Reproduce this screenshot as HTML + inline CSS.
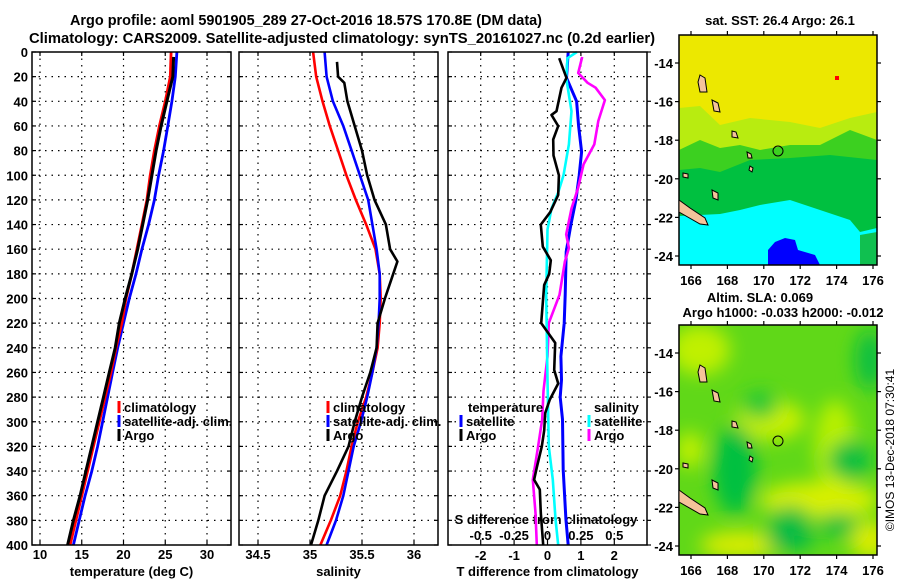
<!DOCTYPE html>
<html><head><meta charset="utf-8"><style>
body{margin:0;background:#fff;}
svg{display:block;font-family:"Liberation Sans",Arial,sans-serif;font-weight:bold;}
</style></head><body>
<svg id="chart" width="900" height="580" viewBox="0 0 900 580" xmlns="http://www.w3.org/2000/svg">
<rect width="900" height="580" fill="#fff"/>
<text x="306" y="25" font-size="14.5" text-anchor="middle" textLength="472" lengthAdjust="spacingAndGlyphs">Argo profile: aoml 5901905_289 27-Oct-2016 18.57S 170.8E (DM data)</text>
<text x="342" y="43" font-size="14.5" text-anchor="middle" textLength="626" lengthAdjust="spacingAndGlyphs">Climatology: CARS2009. Satellite-adjusted climatology: synTS_20161027.nc (0.2d earlier)</text>
<g id="panels"></g>

<defs>
<clipPath id="clipTop"><rect x="679" y="35" width="198" height="230"/></clipPath>
<clipPath id="clipBot"><rect x="679" y="325" width="198" height="230"/></clipPath>
<filter id="blur" x="-20%" y="-20%" width="140%" height="140%"><feGaussianBlur stdDeviation="9"/></filter>
</defs>

<!-- top map -->
<g>
<text x="780" y="25" font-size="13" text-anchor="middle">sat. SST: 26.4 Argo: 26.1</text>
<g clip-path="url(#clipTop)">
<rect x="679" y="35" width="198" height="230" fill="#ece800"/>
<polygon points="679,145 679,108 700,106 720,125 750,118 790,122 820,128 850,118 877,112 877,160 679,160" fill="#b8ec10"/>
<polygon points="679,160 679,150 700,140 720,148 740,145 760,150 790,145 820,145 850,130 877,140 877,260 679,260" fill="#3cd020"/>
<polygon points="679,195 679,170 700,168 720,172 750,160 790,158 830,155 877,160 877,260 679,260" fill="#00c040"/>
<polygon points="679,265 679,216 720,214 740,210 760,205 790,200 820,210 850,220 860,232 877,228 877,198 877,265" fill="#00ffff"/>
<polygon points="860,235 877,232 877,265 860,265" fill="#10c050"/>
<polygon points="768,265 768,250 775,242 785,238 795,240 798,250 815,255 820,265" fill="#0000ff"/>
<rect x="835" y="76" width="4" height="4" fill="#ff0000"/>
</g>
<rect x="679" y="35" width="198" height="230" fill="none" stroke="#000" stroke-width="1.5"/>
<g fill="#f5c39a" stroke="#000" stroke-width="1">
<polygon points="679,200 690,208 705,218 708,225 700,224 679,212"/>
<polygon points="700,75 705,78 707,92 700,92 698,82"/>
<polygon points="712,100 718,103 720,112 714,111"/>
<polygon points="732,131 736,132 738,138 732,137"/>
<polygon points="747,152 751,154 752,158 748,158"/>
<polygon points="750,166 753,168 752,172 749,170"/>
<polygon points="712,190 718,193 718,200 713,198"/>
<polygon points="683,173 688,174 688,178 683,177"/>
</g>
<circle cx="778" cy="151" r="5" fill="none" stroke="#000" stroke-width="1"/>
</g>

<!-- bottom map -->
<g>
<text x="760" y="302" font-size="13" text-anchor="middle">Altim. SLA: 0.069</text>
<text x="783" y="317" font-size="13" text-anchor="middle">Argo h1000: -0.033 h2000: -0.012</text>
<g clip-path="url(#clipBot)">
<rect x="679" y="325" width="198" height="230" fill="#60d818"/>
<g filter="url(#blur)">
<ellipse cx="700" cy="350" rx="30" ry="25" fill="#c0f000"/>
<ellipse cx="835" cy="445" rx="20" ry="45" fill="#b8f000"/>
<ellipse cx="770" cy="420" rx="35" ry="20" fill="#c8f000"/>
<ellipse cx="820" cy="500" rx="60" ry="18" fill="#d8f000"/>
<ellipse cx="690" cy="450" rx="14" ry="18" fill="#c0f000"/>
<ellipse cx="740" cy="545" rx="40" ry="14" fill="#d8ec00"/>
<ellipse cx="870" cy="540" rx="20" ry="20" fill="#d8ec00"/>
<ellipse cx="735" cy="470" rx="22" ry="45" fill="#00c040"/>
<ellipse cx="790" cy="520" rx="22" ry="14" fill="#10c040"/>
<ellipse cx="790" cy="540" rx="25" ry="10" fill="#00b848"/>
<ellipse cx="850" cy="460" rx="22" ry="20" fill="#10c040"/>
<ellipse cx="838" cy="525" rx="20" ry="12" fill="#10c040"/>
<ellipse cx="760" cy="405" rx="18" ry="14" fill="#20c838"/>
<ellipse cx="870" cy="360" rx="15" ry="30" fill="#10c040"/>
</g>
</g>
<rect x="679" y="325" width="198" height="230" fill="none" stroke="#000" stroke-width="1.5"/>
<g fill="#f5c39a" stroke="#000" stroke-width="1">
<polygon points="679,490 690,498 705,508 708,515 700,514 679,502"/>
<polygon points="700,365 705,368 707,382 700,382 698,372"/>
<polygon points="712,390 718,393 720,402 714,401"/>
<polygon points="732,421 736,422 738,428 732,427"/>
<polygon points="747,442 751,444 752,448 748,448"/>
<polygon points="750,456 753,458 752,462 749,460"/>
<polygon points="712,480 718,483 718,490 713,488"/>
<polygon points="683,463 688,464 688,468 683,467"/>
</g>
<circle cx="778" cy="441" r="5" fill="none" stroke="#000" stroke-width="1"/>
</g>
<g id="mapaxes"></g>
<text transform="translate(894,450) rotate(-90)" font-size="12" font-weight="normal" text-anchor="middle">©IMOS 13-Dec-2018 07:30:41</text>
</svg>
<script>
// ---------- data ----------
const depthTicks = [0,20,40,60,80,100,120,140,160,180,200,220,240,260,280,300,320,340,360,380,400];
const tempTicks = [10,15,20,25,30];
const salTicks = ["34.5","35","35.5","36"];
const tdiffTicks = ["-2","-1","0","1","2"];
const sdiffTicks = ["-0.5","-0.25","0","0.25","0.5"];

const climDepth = [0,20,40,60,80,100,120,140,160,180,200,220,240,260,280,300,320,340,360,380,400];
const climT = [25.7,25.6,25.0,24.3,23.7,23.2,22.8,22.2,21.6,21.0,20.3,19.8,19.1,18.5,17.8,17.1,16.4,15.7,15.0,14.3,13.6];
const satT  = [26.4,26.2,25.8,25.3,24.8,24.2,23.7,23.0,22.2,21.5,20.7,20.0,19.3,18.7,18.1,17.5,16.9,16.2,15.4,14.7,14.0];
const argoTDepth = [4,20,40,60,80,100,120,140,160,180,200,220,240,260,280,300,320,340,360,380,400];
const argoT = [26.0,25.9,25.2,24.5,23.9,23.4,22.9,22.3,21.7,21.0,20.2,19.5,19.0,18.3,17.6,16.9,16.2,15.5,14.8,14.0,13.3];

const climS = [35.03,35.06,35.12,35.19,35.27,35.35,35.44,35.54,35.63,35.67,35.68,35.67,35.65,35.60,35.54,35.46,35.40,35.35,35.29,35.20,35.10];
const satS  = [35.14,35.16,35.22,35.32,35.40,35.48,35.56,35.60,35.64,35.67,35.67,35.66,35.64,35.60,35.55,35.49,35.42,35.37,35.32,35.25,35.16];
const argoSDepth = [8,20,25,40,60,80,100,120,140,160,170,180,200,220,240,260,280,300,320,340,360,380,400];
const argoS = [35.26,35.27,35.33,35.36,35.43,35.50,35.55,35.62,35.73,35.77,35.84,35.80,35.72,35.65,35.64,35.58,35.50,35.43,35.37,35.26,35.14,35.08,35.01];

const satTdDepth = [0,21,40,60,81,100,120,140,162,197,220,247,266,280,298,339,379,400];
const satTd = [0.62,0.57,0.87,0.93,1.02,0.95,0.85,0.70,0.56,0.53,0.50,0.40,0.42,0.38,0.45,0.47,0.55,0.62];
const argoTdDepth = [5,21,29,48,51,60,71,84,100,116,130,140,158,169,180,189,220,236,258,269,282,293,307,320,337,347,355,374,400];
const argoTd = [0.35,0.57,0.42,0.27,0.12,0.32,0.17,0.18,0.34,0.32,0.08,-0.2,-0.14,0.1,0.05,-0.1,-0.19,0.23,0.2,0.32,0.07,-0.07,-0.1,-0.17,-0.32,-0.4,-0.23,-0.2,-0.13];
const satSdDepth = [0,5,21,48,75,100,114,127,144,197,266,320,347,379,400];
const satSd = [0.22,0.15,0.14,0.18,0.16,0.12,0.08,0.03,0.0,-0.01,0.0,0.01,0.04,0.06,0.08];
const argoSdDepth = [4,17,25,29,39,56,75,91,110,127,148,159,170,197,220,247,275,298,320,347,374,400];
const argoSd = [0.26,0.23,0.3,0.36,0.43,0.38,0.35,0.27,0.23,0.18,0.14,0.16,0.13,0.09,0.01,0.0,-0.03,-0.04,-0.07,-0.11,-0.09,-0.08];

const latTicks = ["-14","-16","-18","-20","-22","-24"];
const lonTicks = ["166","168","170","172","174","176"];

// ---------- helpers ----------
const NS = "http://www.w3.org/2000/svg";
const root = document.getElementById('panels');
function mk(tag, attrs, parent, txt){
  const e = document.createElementNS(NS, tag);
  for (const k in attrs) e.setAttribute(k, attrs[k]);
  if (txt !== undefined) e.textContent = txt;
  (parent || root).appendChild(e);
  return e;
}
const Y0 = 52, Y1 = 545;
function yScale(d){ return Y0 + d * (Y1 - Y0) / 400; }
function linScale(v0, v1, p0, p1){ return v => p0 + (v - v0) * (p1 - p0) / (v1 - v0); }

const panels = [
  {name:'temperature', x0:32, x1:231, sx: linScale(10,30,40,207), ticks: tempTicks, label:'temperature (deg C)'},
  {name:'salinity', x0:239, x1:438, sx: linScale(35,36,310,414), ticks: salTicks, label:'salinity'},
  {name:'difference', x0:448, x1:647, sx: linScale(0,1,547.5,580.9), ticks: tdiffTicks, label:'T difference from climatology'}
];
const sxS = linScale(0,0.25,547.5,580.9);

panels.forEach((p, i) => {
  const g = mk('g', {});
  
  
  depthTicks.forEach(d => {
    const y = yScale(d);
    if (d > 0 && d < 400) {
      const l = mk('line', {x1:p.x0, x2:p.x1, y1:y, y2:y, stroke:'#000', 'stroke-width':1.2, 'stroke-dasharray':'1.5,5'}, g);
      
      
    }
    mk('line', {x1:p.x0, x2:p.x0+4, y1:y, y2:y, stroke:'#000', 'stroke-width':1.2}, g);
    mk('line', {x1:p.x1, x2:p.x1+(i===2?4:-4), y1:y, y2:y, stroke:'#000', 'stroke-width':1.2}, g);
    if (i === 0) {
      const t = mk('text', {x:28, y:y+5, 'font-size':13, 'text-anchor':'end'}, g, String(d));
      
      
    }
  });
  p.ticks.forEach(tv => {
    const x = p.sx(parseFloat(tv));
    const l = mk('line', {x1:x, x2:x, y1:Y0, y2:Y1, stroke:'#000', 'stroke-width':1.2, 'stroke-dasharray':'1.5,5'}, g);
    
    
    mk('line', {x1:x, x2:x, y1:Y1, y2:Y1-4, stroke:'#000', 'stroke-width':1.2}, g);
    mk('line', {x1:x, x2:x, y1:Y0, y2:Y0+4, stroke:'#000', 'stroke-width':1.2}, g);
    const t = mk('text', {x:x, y:i===2?560:559, 'font-size':13, 'text-anchor':'middle'}, g, String(tv));
    
    
  });
  const xl = mk('text', {x:(p.x0+p.x1)/2, y:576, 'font-size':13, 'text-anchor':'middle'}, g, p.label);
  
  
  p.g = g;
});

sdiffTicks.forEach(tv => {
  const t = mk('text', {x:sxS(parseFloat(tv)), y:540, 'font-size':13, 'text-anchor':'middle'}, panels[2].g, tv);
  
  
});
const st = mk('text', {x:546, y:524, 'font-size':13, 'text-anchor':'middle'}, panels[2].g, 'S difference from climatology');



function series(depths, vals, sx, color, name, parent, w){
  const pts = depths.map((d, k) => sx(vals[k]).toFixed(1) + ',' + yScale(d).toFixed(1)).join(' ');
  const pl = mk('polyline', {points: pts, fill:'none', stroke: color, 'stroke-width': w || 2.6, 'stroke-linejoin':'round'}, parent);
  
  
}
const p1 = panels[0], p2 = panels[1], p3 = panels[2];
series(climDepth, satT, p1.sx, '#0000ff', 'satellite-temperature-line', p1.g, 2.8);
series(climDepth, climT, p1.sx, '#ff0000', 'climatology-temperature-line', p1.g, 2.8);
series(argoTDepth, argoT, p1.sx, '#000', 'argo-temperature-line', p1.g, 3);
series(climDepth, climS, p2.sx, '#ff0000', 'climatology-salinity-line', p2.g);
series(climDepth, satS, p2.sx, '#0000ff', 'satellite-salinity-line', p2.g);
series(argoSDepth, argoS, p2.sx, '#000', 'argo-salinity-line', p2.g);
series(satTdDepth, satTd, p3.sx, '#0000ff', 'satellite-t-diff-line', p3.g, 3);
series(argoSdDepth, argoSd, sxS, '#ff00ff', 'argo-s-diff-line', p3.g, 2.6);
series(satSdDepth, satSd, sxS, '#00ffff', 'satellite-s-diff-line', p3.g, 2.6);
series(argoTdDepth, argoTd, p3.sx, '#000', 'argo-t-diff-line', p3.g, 2.6);

panels.forEach(p => {
  const r = mk('rect', {x:p.x0, y:Y0, width:p.x1-p.x0, height:Y1-Y0, fill:'none', stroke:'#000', 'stroke-width':1.5}, p.g);
  
  
});

function legend(x, y, color, label, parent){
  const g = mk('g', {}, parent);
  
  
  if (color) mk('line', {x1:x, x2:x, y1:y-11, y2:y+1, stroke:color, 'stroke-width':3}, g);
  mk('text', {x:color ? x+5 : x, y:y, 'font-size':13}, g, label);
}
legend(119, 412, '#ff0000', 'climatology', p1.g);
legend(119, 426, '#0000ff', 'satellite-adj. clim.', p1.g);
legend(119, 440, '#000', 'Argo', p1.g);
legend(328, 412, '#ff0000', 'climatology', p2.g);
legend(328, 426, '#0000ff', 'satellite-adj. clim.', p2.g);
legend(328, 440, '#000', 'Argo', p2.g);
legend(468, 412, null, 'temperature', p3.g);
legend(461, 426, '#0000ff', 'satellite', p3.g);
legend(461, 440, '#000', 'Argo', p3.g);
legend(594, 412, null, 'salinity', p3.g);
legend(589, 426, '#00ffff', 'satellite', p3.g);
legend(589, 440, '#ff00ff', 'Argo', p3.g);

const ma = document.getElementById('mapaxes');
[[35, 'top'], [325, 'bottom']].forEach(([top, nm]) => {
  latTicks.forEach((lt, k) => {
    const y = top + 28 + k * 38.6;
    const t = mk('text', {x:673, y:y+5, 'font-size':13, 'text-anchor':'end'}, ma, lt);
    
    
    mk('line', {x1:877, x2:881, y1:y, y2:y, stroke:'#000', 'stroke-width':1.2}, ma);
    mk('line', {x1:675, x2:679, y1:y, y2:y, stroke:'#000', 'stroke-width':1.2}, ma);
  });
  lonTicks.forEach((ln, k) => {
    const x = 691 + k * 36.4;
    const t = mk('text', {x:x, y:top + 250, 'font-size':13, 'text-anchor':'middle'}, ma, ln);
    
    
    mk('line', {x1:x, x2:x, y1:top-4, y2:top, stroke:'#000', 'stroke-width':1.2}, ma);
    mk('line', {x1:x, x2:x, y1:top+230, y2:top+234, stroke:'#000', 'stroke-width':1.2}, ma);
  });
});
</script>
</body></html>
